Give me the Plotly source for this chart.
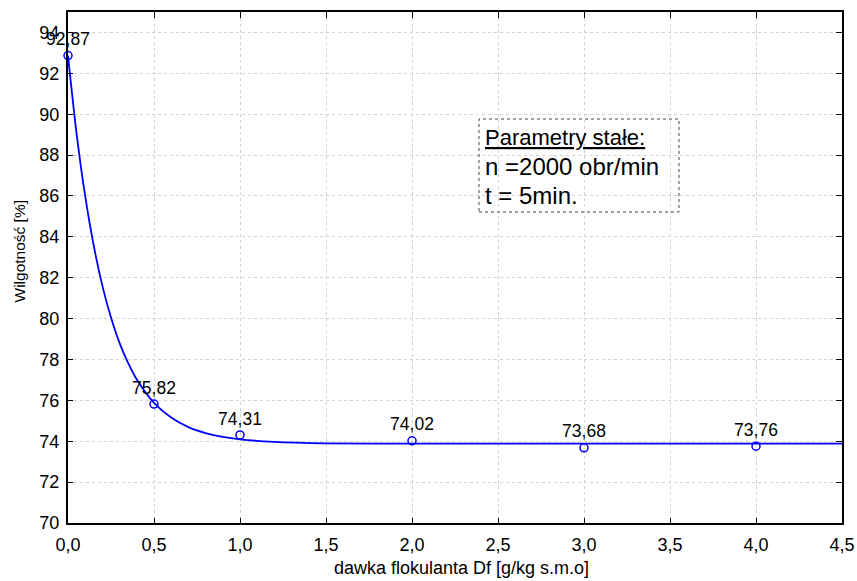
import plotly.graph_objects as go

# measured points
dose = [0.0, 0.5, 1.0, 2.0, 3.0, 4.0]
moisture = [92.87, 75.82, 74.31, 74.02, 73.68, 73.76]
labels = ["92,87", "75,82", "74,31", "74,02", "73,68", "73,76"]

# fitted curve
fit_x = [0.0, 0.05, 0.1, 0.15, 0.2, 0.25, 0.3, 0.35, 0.4, 0.5, 0.6, 0.7, 0.8, 0.9, 1.0, 1.2, 1.5, 2.0, 3.0, 4.0, 4.5]
fit_y = [92.87, 89.04, 85.99, 83.55, 81.60, 80.05, 78.80, 77.82, 77.02, 75.88, 75.16, 74.69, 74.40, 74.21, 74.09, 73.97, 73.90, 73.88, 73.88, 73.88, 73.88]

x_ticks = [0, 0.5, 1.0, 1.5, 2.0, 2.5, 3.0, 3.5, 4.0, 4.5]
y_ticks = [70, 72, 74, 76, 78, 80, 82, 84, 86, 88, 90, 92, 94]

FONT = "Liberation Sans, Arial, sans-serif"
BLUE = "#0000ff"
GRID = "#d2d2d2"

L, R, T, B = 68, 15, 12, 58
PW, PH = 857 - L - R, 581 - T - B

def px(xp):
    return (xp - L) / PW

def py(yp):
    return (581 - B - yp) / PH

fig = go.Figure()
fig.add_trace(go.Scatter(x=fit_x, y=fit_y, mode="lines", line=dict(color=BLUE, width=1.8, shape="spline", smoothing=0.8),
                         hoverinfo="skip", showlegend=False))
fig.add_trace(go.Scatter(x=dose, y=moisture, mode="markers+text", text=labels, textposition="top center",
                         textfont=dict(family=FONT, size=17.5, color="black"),
                         marker=dict(symbol="circle-open", size=8, color=BLUE, line=dict(width=1.5, color=BLUE)),
                         cliponaxis=False, showlegend=False))
# invisible trace for the top/right mirror axes
fig.add_trace(go.Scatter(x=[0], y=[70], xaxis="x2", yaxis="y2", mode="markers", marker=dict(opacity=0),
                         hoverinfo="skip", showlegend=False))

fig.update_layout(
    width=857, height=581,
    margin=dict(l=L, r=R, t=T, b=B),
    paper_bgcolor="white", plot_bgcolor="white",
    separators=",.",
    font=dict(family=FONT, size=14, color="black"),
    xaxis=dict(range=[0, 4.5], tickvals=x_ticks, tickformat=".1f", showgrid=True,
               gridcolor=GRID, griddash="dot", gridwidth=1, automargin=False,
               showline=True, linecolor="black", linewidth=2, ticks="inside", ticklen=5,
               tickcolor="black", zeroline=False, ticklabelstandoff=4,
               tickfont=dict(size=18)),
    yaxis=dict(range=[70, 95], tickvals=y_ticks, showgrid=True,
               gridcolor=GRID, griddash="dot", gridwidth=1, automargin=False,
               showline=True, linecolor="black", linewidth=2, ticks="inside", ticklen=5,
               tickcolor="black", zeroline=False, ticklabelstandoff=3,
               tickfont=dict(size=18)),
    xaxis2=dict(range=[0, 4.5], tickvals=x_ticks, overlaying="x", side="top", showticklabels=False,
                showgrid=False, showline=True, linecolor="black", linewidth=1.5, ticks="inside",
                ticklen=6, tickcolor="black", zeroline=False, automargin=False),
    yaxis2=dict(range=[70, 95], tickvals=y_ticks, overlaying="y", side="right", showticklabels=False,
                showgrid=False, showline=True, linecolor="black", linewidth=2, ticks="inside",
                ticklen=6, tickcolor="black", zeroline=False, automargin=False),
)

# axis titles
fig.add_annotation(xref="paper", yref="paper", x=px(461), y=py(568), xanchor="center", yanchor="middle",
                   showarrow=False, text="dawka flokulanta Df [g/kg s.m.o]",
                   font=dict(family=FONT, size=18, color="black"))
fig.add_annotation(xref="paper", yref="paper", x=px(18.5), y=py(251), xanchor="center", yanchor="middle",
                   showarrow=False, textangle=-90, text="Wilgotność [%]",
                   font=dict(family=FONT, size=15.5, color="black"))

# parameter box
fig.add_shape(type="rect", xref="paper", yref="paper",
              x0=px(479), x1=px(679), y0=py(212), y1=py(119),
              line=dict(color="#444444", width=1, dash="dot"), fillcolor="rgba(0,0,0,0)")
box_lines = [("<u>Parametry stałe:</u>", 22, 137), ("n =2000 obr/min", 24, 166), ("t = 5min.", 24, 195)]
for txt, sz, yc in box_lines:
    fig.add_annotation(xref="paper", yref="paper", x=px(484), y=py(yc),
                       xanchor="left", yanchor="middle", align="left", showarrow=False,
                       borderpad=0, text=txt, font=dict(family=FONT, size=sz, color="black"))

fig.write_html("out.html")
